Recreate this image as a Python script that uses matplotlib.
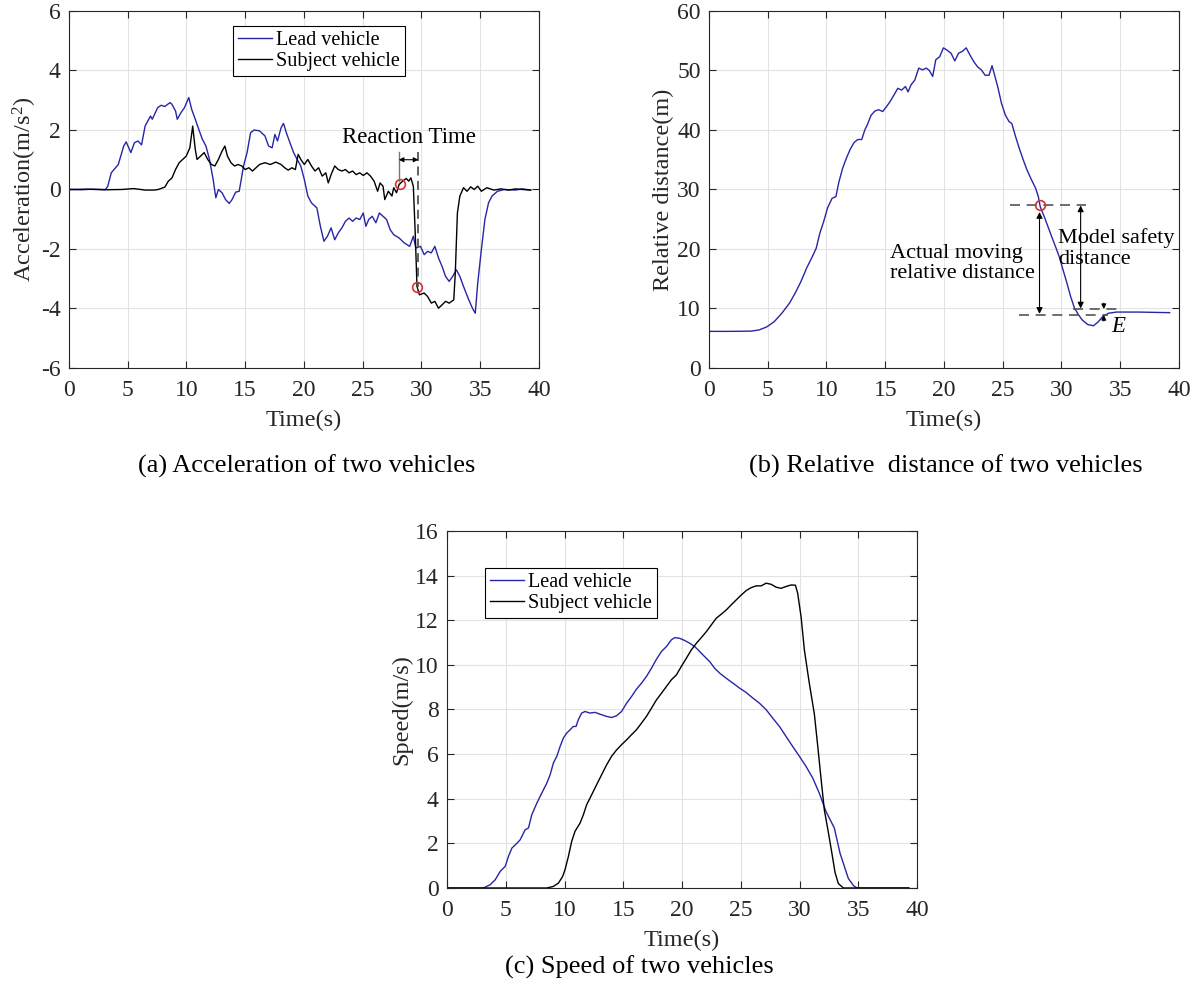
import numpy as np
import matplotlib
matplotlib.use("Agg")
from matplotlib import pyplot as plt

# ---- data (time s, value) ----
lead_acc = [
    (0, 0.0), (1.0, -0.01), (2.0, 0.01), (3.1, 0.0), (3.3, 0.1), (3.6, 0.56), (4.2, 0.84),
    (4.66, 1.46), (4.87, 1.6), (5.27, 1.24), (5.57, 1.57), (5.87, 1.63), (6.18, 1.5),
    (6.48, 2.13), (6.94, 2.47), (7.09, 2.36), (7.55, 2.75), (7.85, 2.83), (8.16, 2.79),
    (8.6, 2.92), (8.75, 2.87), (9.07, 2.64), (9.22, 2.36), (9.53, 2.58), (9.83, 2.75),
    (10.2, 3.09), (10.44, 2.7), (10.75, 2.36), (11.05, 2.02), (11.35, 1.69), (11.66, 1.46),
    (11.96, 1.01), (12.27, 0.34), (12.5, -0.28), (12.72, 0.0), (13.03, -0.11), (13.33, -0.34),
    (13.64, -0.47), (13.88, -0.34), (14.19, -0.09), (14.49, -0.06), (14.86, 0.79), (15.16, 1.24),
    (15.46, 1.91), (15.77, 2.0), (16.22, 1.97), (16.68, 1.8), (16.99, 1.46), (17.29, 1.4),
    (17.53, 1.85), (17.75, 1.63), (18.05, 2.07), (18.26, 2.22), (18.5, 1.91), (18.81, 1.57),
    (19.12, 1.24), (19.42, 1.01), (19.73, 0.79), (20.03, 0.34), (20.33, -0.22), (20.64, -0.45),
    (21.1, -0.62), (21.4, -1.24), (21.7, -1.74), (22.0, -1.57), (22.31, -1.29), (22.62, -1.69),
    (22.92, -1.46), (23.23, -1.29), (23.53, -1.07), (23.84, -0.96), (24.14, -1.07), (24.44, -0.96),
    (24.75, -1.01), (25.05, -0.79), (25.27, -1.24), (25.51, -1.01), (25.81, -0.9), (26.12, -1.12),
    (26.42, -0.79), (26.73, -0.9), (27.03, -1.01), (27.34, -1.35), (27.64, -1.52), (28.1, -1.63),
    (28.55, -1.8), (29.0, -1.91), (29.31, -1.57), (29.52, -1.97), (29.92, -1.91), (30.23, -2.19),
    (30.53, -2.08), (30.84, -2.13), (31.14, -1.91), (31.45, -2.3), (31.75, -2.58), (32.05, -2.92),
    (32.36, -3.09), (32.66, -2.92), (32.97, -2.7), (33.27, -2.92), (33.58, -3.26), (34.03, -3.71),
    (34.34, -3.99), (34.58, -4.16), (34.79, -3.15), (35.1, -2.02), (35.4, -1.01), (35.71, -0.45),
    (36.01, -0.22), (36.47, -0.06), (37.08, 0.0), (37.99, -0.02), (38.6, 0.02), (39.3, -0.02),
]

subject_acc = [
    (0, 0.0), (1.5, 0.01), (3.0, -0.01), (4.5, 0.0), (5.5, 0.03), (6.5, -0.02), (7.25, -0.02),
    (7.6, 0.0), (8.16, 0.08), (8.46, 0.28), (8.77, 0.39), (9.07, 0.67), (9.38, 0.9), (9.68, 1.01),
    (9.98, 1.12), (10.29, 1.4), (10.53, 2.13), (10.75, 1.35), (10.9, 1.01), (11.2, 1.12),
    (11.51, 1.24), (11.81, 1.01), (12.12, 0.84), (12.42, 0.79), (12.72, 1.01), (13.03, 1.29),
    (13.27, 1.46), (13.49, 1.12), (13.79, 0.9), (14.09, 0.79), (14.4, 0.84), (14.7, 0.79),
    (15.01, 0.67), (15.31, 0.73), (15.62, 0.62), (15.92, 0.73), (16.22, 0.84), (16.68, 0.9),
    (17.14, 0.84), (17.6, 0.92), (18.05, 0.84), (18.36, 0.73), (18.66, 0.65), (18.97, 0.73),
    (19.27, 0.67), (19.51, 1.18), (19.73, 1.01), (20.03, 0.84), (20.33, 1.01), (20.64, 0.79),
    (20.94, 0.62), (21.25, 0.73), (21.55, 0.45), (21.86, 0.56), (22.07, 0.22), (22.31, 0.5),
    (22.62, 0.79), (22.92, 0.67), (23.23, 0.62), (23.53, 0.67), (23.84, 0.56), (24.14, 0.62),
    (24.44, 0.5), (24.75, 0.56), (25.05, 0.47), (25.36, 0.56), (25.66, 0.45), (25.97, 0.28),
    (26.27, -0.06), (26.48, 0.22), (26.73, 0.11), (26.88, -0.34), (27.18, -0.06), (27.49, -0.22),
    (27.64, 0.06), (27.88, -0.11), (28.1, 0.17), (28.4, 0.28), (28.7, 0.37), (28.92, 0.28),
    (29.1, 0.39), (29.31, 0.11), (29.47, -1.46), (29.62, -3.26), (29.83, -3.54), (30.23, -3.48),
    (30.53, -3.6), (30.84, -3.82), (31.14, -3.76), (31.45, -3.99), (31.75, -3.88), (32.05, -3.76),
    (32.36, -3.82), (32.75, -3.71), (32.88, -2.81), (33.06, -0.79), (33.27, -0.22), (33.58, 0.06),
    (33.88, -0.06), (34.19, 0.09), (34.49, 0.0), (34.79, 0.11), (35.1, -0.06), (35.56, 0.06),
    (36.16, -0.02), (36.77, 0.02), (37.4, -0.02), (38.0, 0.02), (38.6, 0.0), (39.3, -0.02),
]

rel_dist = [
    (0, 6.16), (1, 6.15), (2, 6.16), (3, 6.18), (3.6, 6.2), (4.27, 6.4), (4.91, 6.9), (5.56, 7.8),
    (6.2, 9.2), (6.85, 10.9), (7.34, 12.6), (7.82, 14.5), (8.31, 16.8), (8.79, 18.7), (9.12, 20.1),
    (9.44, 22.7), (9.76, 24.6), (10.09, 26.9), (10.47, 28.5), (10.8, 28.8), (11.06, 31.3),
    (11.38, 33.6), (11.7, 35.3), (12.03, 36.8), (12.35, 37.9), (12.67, 38.4), (13.0, 38.4),
    (13.26, 40.0), (13.48, 40.9), (13.8, 42.5), (14.13, 43.2), (14.45, 43.4), (14.78, 43.1),
    (15.1, 43.9), (15.42, 44.8), (15.75, 45.9), (16.07, 47.0), (16.39, 46.7), (16.72, 47.3),
    (16.94, 46.4), (17.2, 47.6), (17.52, 48.4), (17.85, 50.4), (18.17, 50.1), (18.49, 50.4),
    (18.75, 50.0), (19.04, 49.0), (19.3, 51.8), (19.63, 52.3), (19.95, 53.8), (20.27, 53.4),
    (20.6, 52.9), (20.92, 51.6), (21.24, 52.9), (21.56, 53.2), (21.89, 53.8), (22.21, 52.6),
    (22.53, 51.5), (22.86, 50.6), (23.18, 50.1), (23.5, 49.2), (23.83, 49.2), (24.09, 50.8),
    (24.31, 49.2), (24.57, 47.3), (24.89, 44.5), (25.22, 42.5), (25.54, 41.4), (25.77, 41.1),
    (26.09, 38.9), (26.41, 36.9), (26.74, 35.0), (27.06, 33.3), (27.38, 31.9), (27.8, 30.2),
    (28.03, 28.8), (28.19, 27.1), (28.52, 25.5), (28.84, 23.8), (29.16, 22.1), (29.49, 20.4),
    (29.81, 18.7), (30.13, 16.5), (30.46, 14.3), (30.78, 12.0), (31.1, 10.1), (31.43, 9.0),
    (31.75, 8.1), (32.23, 7.3), (32.72, 7.1), (33.1, 7.7), (33.53, 8.7), (34.01, 9.2),
    (34.66, 9.4), (36.5, 9.4), (39.2, 9.3),
]

lead_speed = [
    (0, 0.0), (3.1, 0.0), (3.68, 0.15), (4.1, 0.37), (4.53, 0.75), (4.95, 0.97), (5.23, 1.42),
    (5.52, 1.79), (5.94, 2.0), (6.22, 2.16), (6.65, 2.61), (6.93, 2.69), (7.21, 3.28), (7.64, 3.8),
    (8.06, 4.25), (8.49, 4.7), (8.77, 5.07), (9.05, 5.6), (9.34, 5.9), (9.62, 6.34), (9.9, 6.72),
    (10.18, 6.94), (10.47, 7.09), (10.75, 7.24), (10.98, 7.24), (11.17, 7.54), (11.46, 7.84),
    (11.74, 7.91), (12.16, 7.84), (12.59, 7.87), (13.01, 7.79), (13.58, 7.69), (14.0, 7.64),
    (14.43, 7.72), (14.85, 7.91), (15.28, 8.28), (15.7, 8.58), (16.12, 8.91), (16.55, 9.18),
    (16.97, 9.48), (17.4, 9.85), (17.82, 10.25), (18.25, 10.6), (18.67, 10.82), (19.09, 11.12),
    (19.38, 11.22), (19.8, 11.19), (20.23, 11.09), (20.65, 10.97), (21.08, 10.82), (21.5, 10.6),
    (21.92, 10.37), (22.35, 10.15), (22.77, 9.85), (23.2, 9.63), (23.76, 9.4), (24.33, 9.18),
    (24.89, 8.96), (25.46, 8.76), (26.03, 8.51), (26.59, 8.28), (27.16, 7.99), (27.72, 7.61),
    (28.29, 7.24), (28.85, 6.79), (29.42, 6.34), (29.99, 5.9), (30.55, 5.45), (31.12, 4.93),
    (31.68, 4.25), (32.25, 3.43), (32.67, 2.99), (32.96, 2.69), (33.45, 1.55), (34.15, 0.43),
    (34.6, 0.1), (34.9, 0.0), (39.3, 0.0),
]

subject_speed = [
    (0, 0.0), (8.49, 0.0), (9.05, 0.07), (9.48, 0.22), (9.84, 0.52), (10.04, 0.82), (10.33, 1.42),
    (10.61, 2.09), (10.89, 2.54), (11.32, 2.91), (11.6, 3.28), (11.88, 3.73), (12.31, 4.18),
    (12.73, 4.63), (13.15, 5.07), (13.58, 5.52), (14.0, 5.9), (14.43, 6.19), (14.85, 6.42),
    (15.28, 6.64), (15.7, 6.87), (16.12, 7.09), (16.55, 7.39), (16.97, 7.69), (17.4, 8.06),
    (17.82, 8.43), (18.25, 8.73), (18.67, 9.03), (19.09, 9.33), (19.52, 9.55), (19.94, 9.93),
    (20.37, 10.3), (20.79, 10.67), (21.22, 10.97), (21.64, 11.22), (22.07, 11.49), (22.49, 11.79),
    (22.91, 12.09), (23.34, 12.27), (23.76, 12.46), (24.19, 12.69), (24.61, 12.91), (25.04, 13.13),
    (25.46, 13.33), (25.88, 13.46), (26.31, 13.54), (26.73, 13.54), (27.16, 13.66), (27.58, 13.61),
    (28.01, 13.48), (28.43, 13.43), (28.85, 13.51), (29.28, 13.58), (29.65, 13.57), (29.84, 13.21),
    (30.13, 12.16), (30.41, 10.67), (30.83, 9.18), (31.26, 7.8), (31.54, 6.4), (31.83, 4.9),
    (32.11, 3.5), (32.45, 2.5), (32.74, 1.6), (33.02, 0.7), (33.3, 0.2), (33.73, 0.0), (39.3, 0.0),
]

# annotation values
react_start, react_end = 28.17, 29.64   # reaction time (s)
brake_time = 28.17                       # moment marked on relative distance
actual_final = 8.9                       # actual relative distance after stop (m)
model_final = 9.9                        # model safety distance end value (m)

x_ticks = np.arange(0, 41, 5)
acc_ticks = np.arange(-6, 7, 2)
dist_ticks = np.arange(0, 61, 10)
speed_ticks = np.arange(0, 17, 2)

BLUE = "#2626a6"
DARK = "#262626"

plt.rcParams["font.family"] = ["Liberation Serif", "DejaVu Serif"]
plt.rcParams["mathtext.fontset"] = "custom"
plt.rcParams["mathtext.rm"] = "Liberation Serif"
plt.rcParams["mathtext.it"] = "Liberation Serif:italic"
plt.rcParams["axes.unicode_minus"] = False


def style_axes(ax, yticks):
    ax.set_xlim(0, 40)
    ax.set_ylim(yticks[0], yticks[-1])
    ax.set_xticks(x_ticks)
    ax.set_yticks(yticks)
    ax.grid(True, color="#e3e3e3", linewidth=0.8)
    ax.set_axisbelow(True)
    ax.tick_params(direction="in", top=True, right=True, length=5, width=0.8,
                   labelsize=17, colors=DARK)
    ax.tick_params(axis="x", pad=9)
    ax.tick_params(axis="y", pad=6)
    for s in ax.spines.values():
        s.set_color(DARK)
        s.set_linewidth(0.8)
    ax.set_xlabel("Time(s)", fontsize=17.5, color=DARK, labelpad=6)


def series(pairs):
    arr = np.array(pairs, dtype=float)
    return arr[:, 0], arr[:, 1]


fig = plt.figure(figsize=(11.95, 10.06), dpi=100)
ax_a = fig.add_axes([0.0577, 0.6342, 0.3933, 0.3549])
ax_b = fig.add_axes([0.5933, 0.6342, 0.3933, 0.3549])
ax_c = fig.add_axes([0.3741, 0.1173, 0.3933, 0.3549])

# (a) acceleration
t_l, a_l = series(lead_acc)
t_s, a_s = series(subject_acc)
ax_a.plot(t_l, a_l, color=BLUE, lw=1.0, label="Lead vehicle")
ax_a.plot(t_s, a_s, color="black", lw=1.0, label="Subject vehicle")
style_axes(ax_a, acc_ticks)
ax_a.set_ylabel("Acceleration(m/s$^2$)", fontsize=17.5, color=DARK, labelpad=1)
leg = ax_a.legend(loc="upper left", bbox_to_anchor=(0.348, 0.958), borderaxespad=0,
                  fontsize=14.5, handlelength=1.7, handletextpad=0.2, borderpad=0.25,
                  labelspacing=0.1, fancybox=False, framealpha=1)
leg.get_frame().set_edgecolor("black")
leg.get_frame().set_linewidth(0.8)

a0 = np.interp(react_start, t_s, a_s)
a1 = np.interp(react_end, t_s, a_s)
ax_a.plot([react_start, react_end], [a0, a1], "o", mfc="none", mec="#d83030", ms=7, mew=1.2)
ax_a.plot([react_start - 0.1, react_start - 0.1], [a0 + 0.1, 1.25], color="#777777", lw=1.0)
ax_a.plot([react_end + 0.1, react_end + 0.1], [1.25, a1], color="#555555", lw=1.3,
          dashes=(5, 3))
ax_a.annotate("", xy=(react_start - 0.1, 1.0), xytext=(react_end + 0.1, 1.0),
              arrowprops=dict(arrowstyle="<|-|>", color="black", lw=0.8,
                              mutation_scale=7, shrinkA=0, shrinkB=0))
ax_a.text(28.9, 1.74, "Reaction Time", fontsize=16.5, ha="center", va="center", color="black")

# (b) relative distance
t_d, d = series(rel_dist)
ax_b.plot(t_d, d, color=BLUE, lw=1.0)
style_axes(ax_b, dist_ticks)
ax_b.set_ylabel("Relative distance(m)", fontsize=17.5, color=DARK, labelpad=2)
d0 = np.interp(brake_time, t_d, d)
ax_b.plot([25.6, 32.1], [d0, d0], color="#555555", lw=1.2, dashes=(6, 4))
ax_b.plot([26.4, 34.0], [actual_final, actual_final], color="#555555", lw=1.2, dashes=(6, 4))
ax_b.plot([31.0, 34.7], [model_final, model_final], color="#555555", lw=1.2, dashes=(6, 4))
ax_b.plot([brake_time], [d0], "o", mfc="none", mec="#d83030", ms=7, mew=1.2)
arrow = dict(arrowstyle="<|-|>", color="black", lw=0.8, mutation_scale=9, shrinkA=0, shrinkB=0)
ax_b.annotate("", xy=(brake_time - 0.04, d0 - 1.1), xytext=(brake_time - 0.04, actual_final + 0.2),
              arrowprops=arrow)
ax_b.annotate("", xy=(31.63, d0), xytext=(31.63, model_final + 0.1), arrowprops=arrow)
small = dict(arrowstyle="-|>", color="black", lw=0.8, mutation_scale=7, shrinkA=0, shrinkB=0)
ax_b.annotate("", xy=(33.6, model_final), xytext=(33.6, model_final + 1.0), arrowprops=small)
ax_b.annotate("", xy=(33.6, actual_final), xytext=(33.6, actual_final - 1.0), arrowprops=small)
ax_b.text(15.4, 17.6, "Actual moving\nrelative distance", fontsize=16, ha="left",
          va="center", linespacing=1.1)
ax_b.text(29.7, 20.1, "Model safety\ndistance", fontsize=16, ha="left",
          va="center", linespacing=1.1)
ax_b.text(34.8, 6.9, "E", fontsize=16.5, style="italic", ha="center", va="center")

# (c) speed
t_vl, v_l = series(lead_speed)
t_vs, v_s = series(subject_speed)
ax_c.plot(t_vl, v_l, color=BLUE, lw=1.0, label="Lead vehicle")
ax_c.plot(t_vs, v_s, color="black", lw=1.0, label="Subject vehicle")
style_axes(ax_c, speed_ticks)
ax_c.set_ylabel("Speed(m/s)", fontsize=17.5, color=DARK, labelpad=2)
leg = ax_c.legend(loc="upper left", bbox_to_anchor=(0.08, 0.896), borderaxespad=0,
                  fontsize=14.5, handlelength=1.7, handletextpad=0.2, borderpad=0.25,
                  labelspacing=0.1, fancybox=False, framealpha=1)
leg.get_frame().set_edgecolor("black")
leg.get_frame().set_linewidth(0.8)

# captions
fig.text(0.257, 1 - 466 / 1006, "(a) Acceleration of two vehicles", fontsize=19,
         ha="center", va="center")
fig.text(0.7916, 1 - 466 / 1006, "(b) Relative  distance of two vehicles", fontsize=19,
         ha="center", va="center")
fig.text(0.5347, 1 - 967 / 1006, "(c) Speed of two vehicles", fontsize=19,
         ha="center", va="center")

fig.savefig("out.png", dpi=100)
